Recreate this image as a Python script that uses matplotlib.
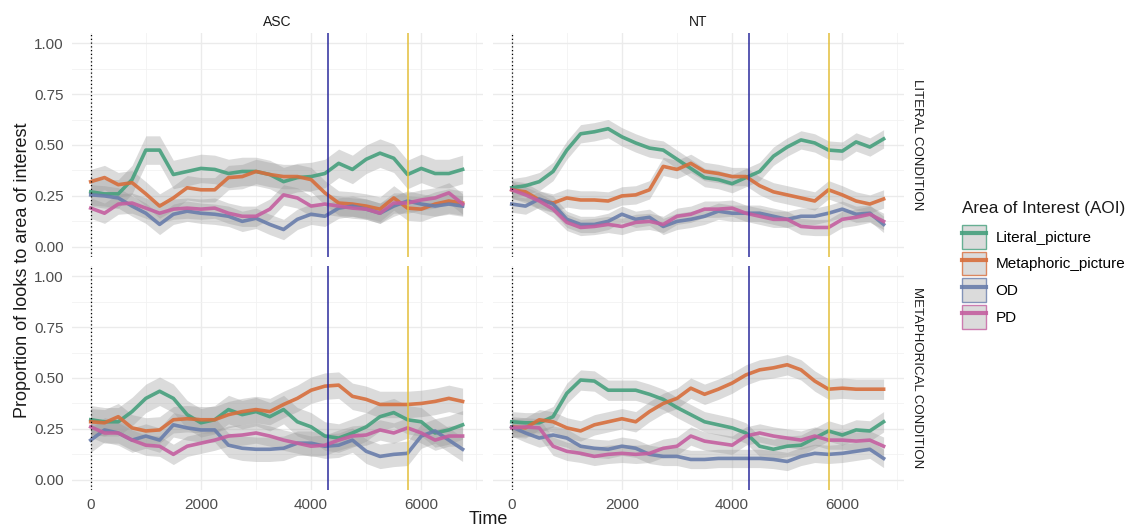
import matplotlib
matplotlib.use("Agg")
import matplotlib.pyplot as plt
from matplotlib.patches import Patch
from matplotlib.lines import Line2D
import numpy as np

plt.rcParams['font.family'] = ['Liberation Sans', 'DejaVu Sans']

# sample times (ms)
time = [0, 250, 500, 750, 1000, 1250, 1500, 1750, 2000, 2250, 2500, 2750, 3000, 3250,
        3500, 3750, 4000, 4250, 4500, 4750, 5000, 5250, 5500, 5750, 6000, 6250, 6500, 6750]

aoi = ["Literal_picture", "Metaphoric_picture", "OD", "PD"]
aoi_colors = ["#46a07d", "#d76e3c", "#697dab", "#c45fa0"]

# ASC - literal condition
asc_lit_literal = [0.27, 0.26, 0.26, 0.33, 0.475, 0.475, 0.355, 0.37, 0.385, 0.38, 0.36, 0.37, 0.37, 0.355,
                   0.32, 0.34, 0.345, 0.36, 0.41, 0.38, 0.43, 0.46, 0.435, 0.355, 0.385, 0.36, 0.36, 0.38]
asc_lit_metaphoric = [0.32, 0.34, 0.305, 0.315, 0.26, 0.20, 0.24, 0.29, 0.28, 0.28, 0.34, 0.345, 0.37, 0.355,
                      0.345, 0.345, 0.33, 0.265, 0.215, 0.21, 0.20, 0.185, 0.24, 0.19, 0.185, 0.21, 0.225, 0.215]
asc_lit_od = [0.255, 0.25, 0.24, 0.20, 0.165, 0.11, 0.16, 0.175, 0.165, 0.16, 0.15, 0.125, 0.14, 0.11,
              0.085, 0.135, 0.16, 0.15, 0.19, 0.20, 0.185, 0.165, 0.20, 0.225, 0.21, 0.20, 0.21, 0.20]
asc_lit_pd = [0.19, 0.165, 0.21, 0.215, 0.19, 0.165, 0.185, 0.19, 0.185, 0.19, 0.165, 0.15, 0.15, 0.185,
              0.255, 0.24, 0.20, 0.21, 0.20, 0.19, 0.185, 0.165, 0.215, 0.215, 0.23, 0.24, 0.265, 0.21]

# NT - literal condition
nt_lit_literal = [0.29, 0.30, 0.32, 0.37, 0.475, 0.555, 0.565, 0.58, 0.54, 0.51, 0.485, 0.475, 0.43, 0.385,
                  0.34, 0.33, 0.31, 0.34, 0.37, 0.445, 0.49, 0.525, 0.51, 0.475, 0.47, 0.515, 0.49, 0.53]
nt_lit_metaphoric = [0.28, 0.27, 0.23, 0.215, 0.24, 0.23, 0.23, 0.225, 0.25, 0.255, 0.28, 0.395, 0.38, 0.41,
                     0.37, 0.36, 0.345, 0.345, 0.30, 0.27, 0.255, 0.24, 0.225, 0.28, 0.255, 0.225, 0.21, 0.235]
nt_lit_od = [0.21, 0.20, 0.235, 0.21, 0.135, 0.11, 0.11, 0.125, 0.16, 0.135, 0.145, 0.10, 0.125, 0.135,
             0.15, 0.175, 0.165, 0.165, 0.165, 0.15, 0.135, 0.15, 0.15, 0.165, 0.185, 0.16, 0.165, 0.11]
nt_lit_pd = [0.28, 0.255, 0.225, 0.185, 0.12, 0.095, 0.10, 0.11, 0.10, 0.12, 0.125, 0.11, 0.15, 0.16,
             0.185, 0.185, 0.19, 0.165, 0.15, 0.135, 0.135, 0.10, 0.095, 0.095, 0.135, 0.145, 0.16, 0.125]

# ASC - metaphorical condition
asc_met_literal = [0.295, 0.285, 0.285, 0.335, 0.40, 0.435, 0.40, 0.32, 0.28, 0.295, 0.345, 0.32, 0.335, 0.31,
                   0.345, 0.285, 0.26, 0.215, 0.205, 0.23, 0.26, 0.31, 0.33, 0.295, 0.285, 0.23, 0.245, 0.27]
asc_met_metaphoric = [0.285, 0.28, 0.31, 0.255, 0.24, 0.245, 0.295, 0.30, 0.295, 0.295, 0.32, 0.335, 0.345, 0.335,
                      0.37, 0.40, 0.44, 0.46, 0.465, 0.41, 0.395, 0.37, 0.37, 0.37, 0.375, 0.385, 0.40, 0.385]
asc_met_od = [0.195, 0.245, 0.23, 0.195, 0.215, 0.195, 0.27, 0.255, 0.245, 0.245, 0.17, 0.155, 0.15, 0.15,
              0.155, 0.18, 0.18, 0.165, 0.17, 0.195, 0.14, 0.115, 0.125, 0.13, 0.215, 0.24, 0.195, 0.15]
asc_met_pd = [0.26, 0.23, 0.23, 0.195, 0.17, 0.165, 0.125, 0.165, 0.18, 0.195, 0.215, 0.22, 0.23, 0.215,
              0.195, 0.18, 0.165, 0.17, 0.195, 0.215, 0.22, 0.245, 0.23, 0.255, 0.23, 0.195, 0.215, 0.215]

# NT - metaphorical condition
nt_met_literal = [0.285, 0.28, 0.28, 0.31, 0.425, 0.49, 0.485, 0.44, 0.44, 0.44, 0.42, 0.395, 0.355, 0.32,
                  0.285, 0.27, 0.255, 0.23, 0.165, 0.15, 0.165, 0.17, 0.205, 0.24, 0.22, 0.245, 0.24, 0.285]
nt_met_metaphoric = [0.26, 0.255, 0.295, 0.285, 0.255, 0.24, 0.27, 0.285, 0.30, 0.285, 0.335, 0.375, 0.40, 0.45,
                     0.42, 0.445, 0.475, 0.515, 0.54, 0.55, 0.565, 0.54, 0.485, 0.445, 0.45, 0.445, 0.445, 0.445]
nt_met_od = [0.26, 0.23, 0.205, 0.22, 0.205, 0.165, 0.155, 0.15, 0.165, 0.155, 0.125, 0.115, 0.115, 0.10,
             0.10, 0.105, 0.105, 0.105, 0.105, 0.10, 0.09, 0.115, 0.13, 0.125, 0.13, 0.14, 0.15, 0.105]
nt_met_pd = [0.255, 0.26, 0.255, 0.165, 0.14, 0.13, 0.115, 0.125, 0.13, 0.125, 0.13, 0.155, 0.165, 0.215,
             0.19, 0.18, 0.17, 0.215, 0.23, 0.215, 0.205, 0.195, 0.215, 0.195, 0.195, 0.19, 0.195, 0.165]

# ribbon half widths per AOI, per panel
asc_lit_band = [0.07, 0.06, 0.05, 0.05]
nt_lit_band = [0.045, 0.045, 0.04, 0.04]
asc_met_band = [0.07, 0.065, 0.06, 0.05]
nt_met_band = [0.05, 0.05, 0.045, 0.045]

groups = ["ASC", "NT"]
conditions = ["LITERAL CONDITION", "METAPHORICAL CONDITION"]
panels = {
    (0, 0): ([asc_lit_literal, asc_lit_metaphoric, asc_lit_od, asc_lit_pd], asc_lit_band),
    (0, 1): ([nt_lit_literal, nt_lit_metaphoric, nt_lit_od, nt_lit_pd], nt_lit_band),
    (1, 0): ([asc_met_literal, asc_met_metaphoric, asc_met_od, asc_met_pd], asc_met_band),
    (1, 1): ([nt_met_literal, nt_met_metaphoric, nt_met_od, nt_met_pd], nt_met_band),
}

onset_word = 4300
onset_end = 5750

W, H = 1135, 528
fig = plt.figure(figsize=(W / 100, H / 100), dpi=100)
lefts = [72 / W, 493 / W]
bottoms = [1 - 257 / H, 1 - 490 / H]
pw, ph = 411 / W, 224 / H

t = np.array(time)
for (r, c), (series, bands) in panels.items():
    ax = fig.add_axes([lefts[c], bottoms[r], pw, ph])
    for vals, hw, col in zip(series, bands, aoi_colors):
        v = np.array(vals)
        ax.fill_between(t, v - hw, v + hw, color="0.6", alpha=0.35, lw=0, zorder=2)
    for vals, col in zip(series, aoi_colors):
        ax.plot(t, vals, color=col, lw=2.6, alpha=0.9, zorder=3, solid_joinstyle="round")
    ax.axvline(0, color="black", lw=0.9, ls=(0, (1, 2)), zorder=4)
    ax.axvline(onset_word, color="#2b2b9c", lw=1.1, zorder=4)
    ax.axvline(onset_end, color="#e3bf3a", lw=1.1, zorder=4)

    ax.set_xlim(-340, 7120)
    ax.set_ylim(-0.05, 1.05)
    ax.set_xticks([0, 2000, 4000, 6000])
    ax.set_xticks([1000, 3000, 5000, 7000], minor=True)
    ax.set_yticks([0, 0.25, 0.5, 0.75, 1.0])
    ax.set_yticks([0.125, 0.375, 0.625, 0.875], minor=True)
    ax.set_yticklabels(["0.00", "0.25", "0.50", "0.75", "1.00"])
    ax.grid(which="major", color="#ebebeb", lw=1.0, zorder=0)
    ax.grid(which="minor", color="#f2f2f2", lw=0.6, zorder=0)
    ax.set_axisbelow(True)
    for s in ax.spines.values():
        s.set_visible(False)
    ax.tick_params(which="both", length=0, labelsize=11, labelcolor="#4d4d4d", pad=6)
    if c == 1:
        ax.tick_params(labelleft=False)
        ax.text(1.032, 0.5, conditions[r], transform=ax.transAxes, rotation=-90,
                ha="center", va="center", fontsize=9.5, color="#1a1a1a")
    if r == 0:
        ax.tick_params(labelbottom=False)
        ax.text(0.5, 1.049, groups[c], transform=ax.transAxes, ha="center", va="center",
                fontsize=10, color="#1a1a1a")

fig.text(23 / W, 1 - 270 / H, "Proportion of looks to area of interest", rotation=90,
         ha="center", va="center", fontsize=13, color="#1a1a1a")
fig.text(488 / W, 1 - 520 / H, "Time", ha="center", va="center", fontsize=13, color="#1a1a1a")

# legend: title as separate text, keys below it
fig.text(962 / W, 1 - 208 / H, "Area of Interest (AOI)", ha="left", va="center",
         fontsize=12.3, color="#1a1a1a")
handles = [(Patch(facecolor="#d3d3d3", edgecolor=col, alpha=0.8, lw=1),
            Line2D([], [], color=col, lw=3, alpha=0.9)) for col in aoi_colors]
leg = fig.legend(handles, aoi, loc="upper left", bbox_to_anchor=(962 / W, 1 - 225 / H),
                 frameon=False, fontsize=11, handlelength=1.6, handleheight=2.0,
                 labelspacing=0.2, handletextpad=0.6, borderaxespad=0, borderpad=0)

fig.savefig("out.png", dpi=100)
